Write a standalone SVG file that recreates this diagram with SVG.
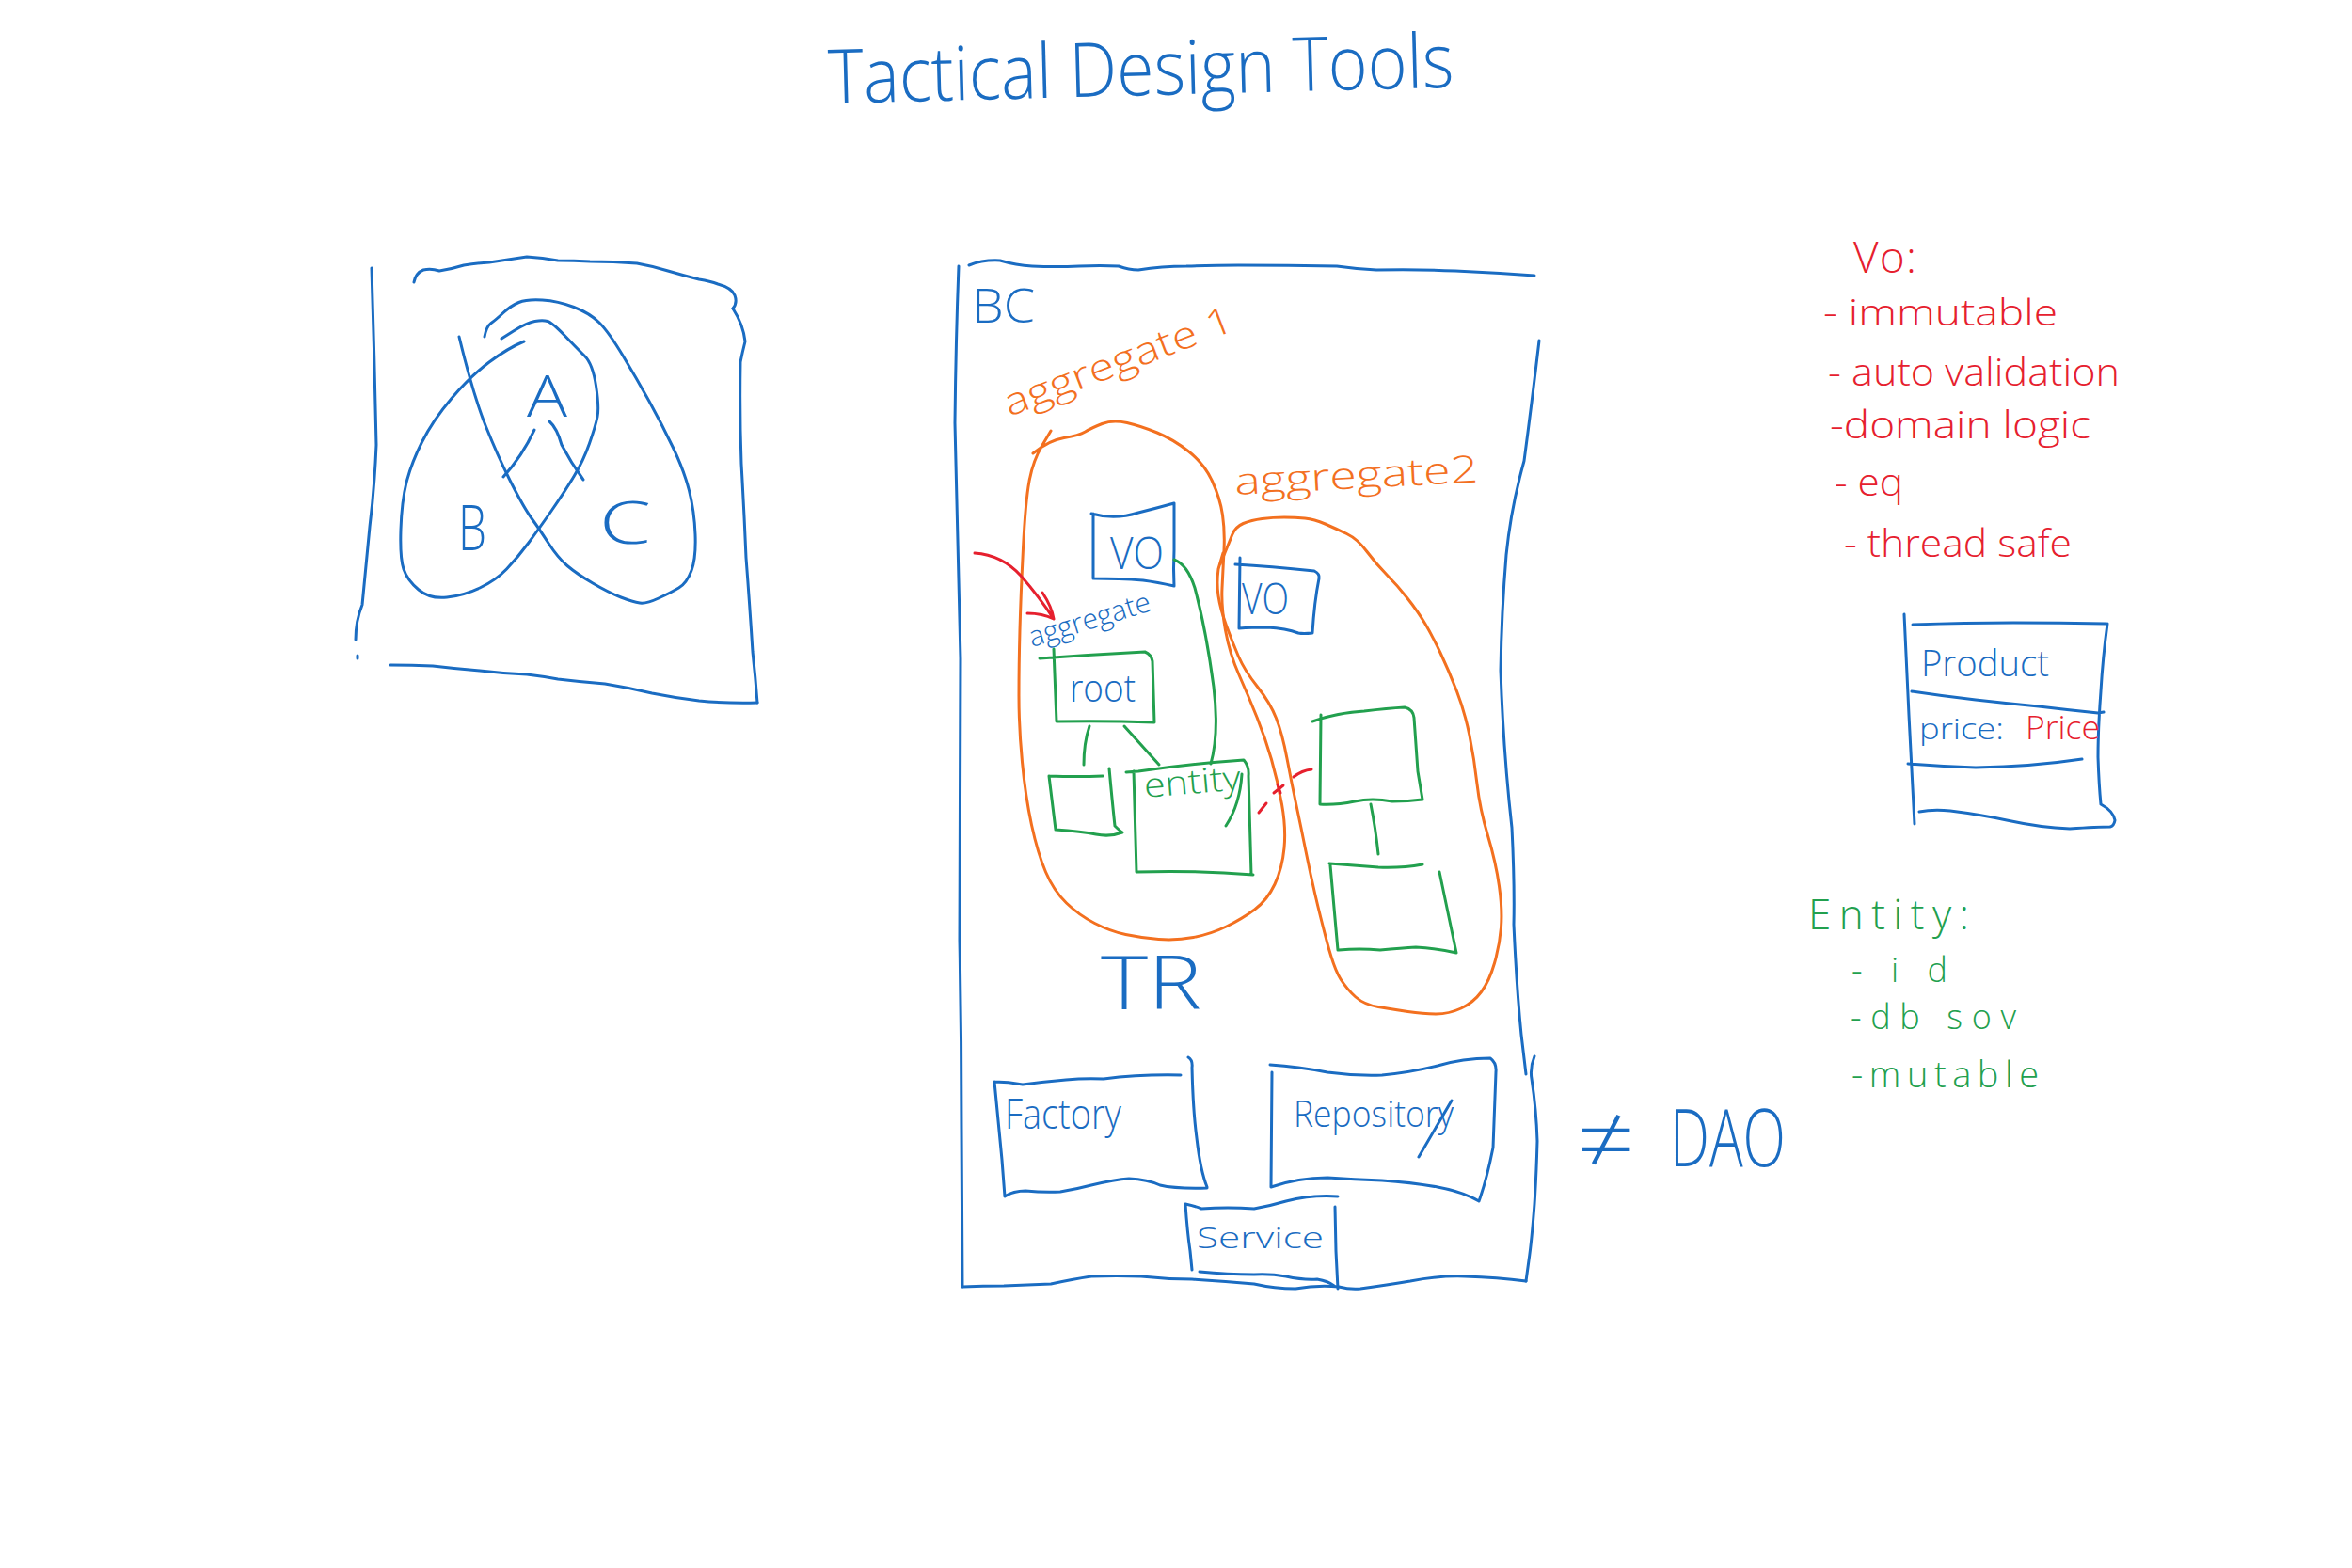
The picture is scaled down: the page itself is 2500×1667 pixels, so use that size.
<svg xmlns="http://www.w3.org/2000/svg" width="2500" height="1667" viewBox="0 0 2500 1667">
  <style>
    path { fill: none; stroke-width: 3; stroke-linecap: round; stroke-linejoin: round; }
    .b { stroke: #1a6cc2; }
    .o { stroke: #f3701f; }
    .g { stroke: #22a04e; }
    .r { stroke: #e6202e; }
    text { font-family: "Open Sans", "Liberation Sans", sans-serif; font-weight: 300; }
    .tb { fill: #1a6cc2; }
    .to { fill: #f3701f; }
    .tg { fill: #22a04e; }
    .tr { fill: #e6202e; }
  </style>
  <rect width="2500" height="1667" fill="#ffffff"/>

  <!-- heading -->
  <g id="title">
    <text class="tb" x="881" y="110" font-size="80" textLength="665" lengthAdjust="spacingAndGlyphs" transform="rotate(-1.5 881 110)">Tactical Design Tools</text>
  </g>

  <!-- left sketch: frame with three overlapping lobes -->
  <g id="venn-frame">
    <path class="b" d="M395,285 Q398,380 400,473 Q398,520 393,560 Q388,610 385,643 Q378,660 378,680 M380,697 L380,700"/>
    <path class="b" d="M440,300 Q442,290 450,287 Q458,285 467,288 Q480,286 493,282 Q506,280 520,279 Q540,276 560,273 Q577,274 593,277 Q610,277 627,278 Q652,278 677,280 Q694,283 710,288 Q727,293 743,297 Q755,299 763,302 Q778,306 781,314 Q784,322 779,328"/>
    <path class="b" d="M779,328 Q790,345 792,363 Q789,375 787,385 Q786,440 788,493 Q791,545 793,593 Q797,645 800,693 Q803,720 805,747"/>
    <path class="b" d="M415,707 Q438,707 460,708 Q485,711 510,713 Q535,716 560,717 Q577,719 593,722 Q618,725 643,727 Q668,731 693,737 Q718,742 743,745 Q775,748 805,747"/>
  </g>
  <g id="venn-b">
    <path class="b" d="M557,363 Q540,370 520,385 Q500,400 480,423.5 Q460,447 448.5,470 Q437,493 432,513 Q427,533 426,563 Q425,593 429,605 Q433,617 445,627 Q457,637 475,635 Q493,633 510,625 Q527,617 538.5,605 Q550,593 561.5,577.5 Q573,562 586.5,542.5 Q600,523 610,506.5 Q620,490 626.5,471.5 Q633,453 635,443 Q637,433 633.5,410 Q630,387 621.5,378.5 Q613,370 600,356.5 Q587,343 582,341.5 Q577,340 568.5,341.5 Q560,343 546.5,351.5 L533,360"/>
    <text class="tb" x="487" y="585" font-size="66" textLength="30" lengthAdjust="spacingAndGlyphs">B</text>
  </g>
  <g id="venn-c">
    <path class="b" d="M515,358 Q517,347 522,343.5 Q527,340 535,332.5 Q543,325 551.5,321.5 Q560,318 576.5,319 Q593,320 610,326.5 Q627,333 637,343 Q647,353 662,378 Q677,403 690,426.5 Q703,450 715,475 Q727,500 732.5,521.5 Q738,543 739,568 Q740,593 735,606.5 Q730,620 721.5,625 Q713,630 700,636 Q687,642 680,641 Q673,640 660,635 Q647,630 630,620 Q613,610 603,601.5 Q593,593 583,577.5 Q573,562 565,551 Q557,540 543.5,513.5 Q530,487 516.5,453.5 Q503,420 488,358"/>
    <text class="tb" x="637" y="578" font-size="62" textLength="55" lengthAdjust="spacingAndGlyphs">C</text>
  </g>
  <g id="venn-a">
    <path class="b" d="M568,457 Q555,485 535,507 M584,448 Q592,455 597,473 Q607,492 620,510"/>
    <text class="tb" x="560" y="443" font-size="60" textLength="43" lengthAdjust="spacingAndGlyphs">A</text>
  </g>

  <!-- bounded context frame -->
  <g id="bounded-context">
    <path class="b" d="M1030,282 Q1045,276 1063,277 Q1080,282 1097,283 Q1122,284 1147,283 Q1170,282 1189,283 Q1200,287 1210,287 Q1235,283 1261,283 Q1290,282 1316,282 Q1370,282 1421,283 Q1442,286 1463,287 Q1505,286 1547,288 Q1590,290 1631,293"/>
    <path class="b" d="M1019,283 Q1016,360 1015,450 Q1018,570 1021,700 Q1020,850 1020,1000 Q1022,1100 1022,1200 L1023,1368"/>
    <path class="b" d="M1636,362 Q1628,430 1620,490 Q1606,540 1601,590 Q1596,650 1595,713 Q1598,800 1607,880 Q1610,940 1609,983 Q1612,1050 1617,1100 L1622,1142"/>
    <path class="b" d="M1631,1123 Q1626,1135 1628,1147 Q1633,1180 1634,1213 Q1633,1250 1631,1280 Q1628,1320 1625,1340 L1622,1362"/>
    <path class="b" d="M1023,1368 Q1045,1367 1067,1367 Q1092,1366 1117,1365 Q1140,1360 1160,1357 Q1187,1356 1213,1357 Q1240,1360 1267,1360 Q1300,1362 1333,1365 Q1355,1370 1377,1370 Q1400,1366 1423,1368 Q1435,1371 1446,1370 Q1475,1366 1499,1362 Q1530,1356 1557,1357 Q1592,1358 1622,1362"/>
    <text class="tb" x="1033" y="343" font-size="50" textLength="67" lengthAdjust="spacingAndGlyphs">BC</text>
    <text class="tb" x="1170" y="1073" font-size="80" textLength="107" lengthAdjust="spacingAndGlyphs">TR</text>
  </g>

  <!-- aggregate 1 -->
  <g id="aggregate-1">
    <path class="o" d="M1098,482 Q1115,468 1131,465.5 Q1147,463 1153.5,459 Q1160,455 1171.5,450.5 Q1183,446 1198,449.5 Q1213,453 1230,460 Q1247,467 1263.5,480 Q1280,493 1288.5,511.5 Q1297,530 1299.5,547.5 Q1302,565 1301,585 Q1300,605 1299,625 Q1298,645 1302.5,670 Q1307,695 1317,717.5 Q1327,740 1336,762.5 Q1345,785 1351.5,807.5 Q1358,830 1362.5,855 Q1367,880 1365,901.5 Q1363,923 1355,940 Q1347,957 1333.5,967 Q1320,977 1303.5,985 Q1287,993 1268.5,996.5 Q1250,1000 1231.5,998.5 Q1213,997 1196.5,993.5 Q1180,990 1163.5,981.5 Q1147,973 1133.5,960 Q1120,947 1111.5,927 Q1103,907 1096.5,877 Q1090,847 1086.5,810 Q1083,773 1083,740 Q1083,707 1084,670 Q1085,633 1087.5,583 Q1090,533 1094,511.5 Q1098,490 1107.5,474 L1117,458"/>
    <text class="to" x="1073" y="443" font-size="40" textLength="258" lengthAdjust="spacingAndGlyphs" transform="rotate(-21 1073 443)">aggregate 1</text>
  </g>

  <!-- aggregate 2 -->
  <g id="aggregate-2">
    <path class="o" d="M1297,600 Q1306,578 1309.5,569 Q1313,560 1321.5,556.5 Q1330,553 1341.5,551.5 Q1353,550 1365,550 Q1377,550 1387,551 Q1397,552 1408.5,557 Q1420,562 1431.5,567.5 Q1443,573 1453,586.5 Q1463,600 1474,611 Q1485,622 1496,636 Q1507,650 1514.5,662.5 Q1522,675 1531,694 Q1540,713 1548.5,735 Q1557,757 1562,782 Q1567,807 1570,833.5 Q1573,860 1581.5,888.5 Q1590,917 1593.5,942 Q1597,967 1595.5,986 Q1594,1005 1588.5,1024 Q1583,1043 1574.5,1054.5 Q1566,1066 1553,1072 Q1540,1078 1526.5,1078 Q1513,1078 1496.5,1075.5 Q1480,1073 1465,1070.5 Q1450,1068 1441,1060 Q1432,1052 1425,1041 Q1418,1030 1410.5,1001.5 Q1403,973 1398,951.5 Q1393,930 1388,905 Q1383,880 1378,856.5 Q1373,833 1368,806.5 Q1363,780 1356.5,763.5 Q1350,747 1336.5,730 Q1323,713 1316.5,698 Q1310,683 1303.5,665 Q1297,647 1295,633.5 Q1293,620 1295,605 L1300,588"/>
    <text class="to" x="1313" y="526" font-size="40" textLength="259" lengthAdjust="spacingAndGlyphs" transform="rotate(-3 1313 526)">aggregate2</text>
  </g>

  <!-- value objects -->
  <g id="vo-1">
    <path class="b" d="M1160,546 Q1185,553 1210,545 Q1230,540 1248,535 L1248,585 Q1247,605 1248,623 Q1230,619 1215,617 Q1190,615 1162,615 L1162,546"/>
    <text class="tb" x="1180" y="605" font-size="48" textLength="57" lengthAdjust="spacingAndGlyphs">VO</text>
  </g>
  <g id="vo-2">
    <path class="b" d="M1313,600 Q1350,602 1397,607 Q1403,610 1402,615 Q1397,640 1395,673 Q1385,674 1380,673 Q1367,668 1347,667 Q1330,667 1317,668 M1318,593 L1317,668"/>
    <text class="tb" x="1320" y="653" font-size="46" textLength="50" lengthAdjust="spacingAndGlyphs">VO</text>
  </g>

  <!-- aggregate root and entities -->
  <g id="root">
    <path class="g" d="M1105,700 Q1160,696 1217,693 Q1224,696 1225,703 L1227,768 Q1175,766 1123,767 M1120,690 L1123,767"/>
    <text class="tb" x="1137" y="746" font-size="40" textLength="70" lengthAdjust="spacingAndGlyphs">root</text>
    <text class="tb" x="1097" y="688" font-size="30" textLength="134" lengthAdjust="spacingAndGlyphs" transform="rotate(-17 1097 688)">aggregate</text>
  </g>
  <g id="child-1">
    <path class="g" d="M1115,825 Q1145,826 1172,825 M1179,817 Q1182,850 1185,878 Q1190,883 1193,885 M1122,882 Q1150,884 1165,887 Q1180,890 1193,885 M1115,825 L1122,882"/>
  </g>
  <g id="entity">
    <path class="g" d="M1197,821 L1210,820 Q1265,812 1322,808 Q1328,815 1327,825 L1330,930 M1205,820 L1208,927 Q1270,925 1332,930 M1320,823 Q1318,855 1303,878"/>
    <text class="tg" x="1217" y="848" font-size="36" textLength="103" lengthAdjust="spacingAndGlyphs" transform="rotate(-5 1217 848)">entity</text>
  </g>
  <g id="child-2a">
    <path class="g" d="M1395,767 Q1420,758 1450,756 Q1475,753 1493,752 Q1502,754 1503,763 L1507,820 L1512,850 M1404,760 L1403,855 Q1420,856 1440,852 Q1458,848 1480,852 Q1497,852 1512,850"/>
  </g>
  <g id="child-2b">
    <path class="g" d="M1413,918 Q1440,920 1465,922 Q1490,923 1512,919 M1414,920 L1422,1010 M1530,927 L1548,1013 M1423,1010 Q1445,1008 1467,1010 Q1490,1008 1505,1007 Q1525,1008 1548,1013"/>
  </g>

  <!-- tactical building blocks -->
  <g id="factory">
    <path class="b" d="M1057,1150 Q1072,1150 1087,1153 Q1110,1150 1133,1148 Q1153,1146 1173,1147 Q1213,1142 1255,1143 M1263,1124 Q1268,1127 1267,1135 Q1268,1180 1272,1210 Q1276,1245 1283,1262 M1068,1272 Q1077,1266 1090,1266 Q1110,1268 1127,1267 Q1145,1264 1160,1260 Q1185,1254 1200,1253 Q1220,1254 1233,1260 Q1250,1264 1283,1263 M1057,1150 Q1062,1200 1065,1233 L1068,1272"/>
    <text class="tb" x="1068" y="1200" font-size="44" textLength="124" lengthAdjust="spacingAndGlyphs">Factory</text>
  </g>
  <g id="repository">
    <path class="b" d="M1350,1132 Q1380,1134 1411,1140 Q1440,1144 1469,1143 Q1500,1140 1528,1133 Q1555,1125 1584,1125 Q1591,1130 1590,1140 Q1588,1190 1587,1220 Q1580,1255 1572,1277 M1352,1140 L1351,1262 M1351,1262 Q1380,1252 1411,1252 Q1440,1254 1469,1255 Q1500,1257 1528,1262 Q1555,1267 1572,1277 M1543,1170 L1508,1230"/>
    <text class="tb" x="1375" y="1198" font-size="38" textLength="170" lengthAdjust="spacingAndGlyphs">Repository</text>
  </g>
  <g id="service">
    <path class="b" d="M1260,1280 Q1270,1282 1277,1285 Q1305,1283 1333,1285 Q1350,1282 1367,1277 Q1395,1270 1422,1272 M1260,1280 Q1262,1310 1265,1330 L1267,1350 M1419,1283 L1420,1330 L1422,1370 M1275,1352 Q1305,1355 1333,1355 Q1350,1354 1367,1357 Q1385,1361 1400,1360 Q1412,1362 1418,1367"/>
    <text class="tb" x="1272" y="1327" font-size="32" textLength="135" lengthAdjust="spacingAndGlyphs">Service</text>
  </g>
  <g id="not-dao">
    <text class="tb" x="1676" y="1247" font-size="100" textLength="62" lengthAdjust="spacingAndGlyphs">≠</text>
    <text class="tb" x="1775" y="1240" font-size="84" textLength="123" lengthAdjust="spacingAndGlyphs">DAO</text>
  </g>

  <!-- links between elements -->
  <g id="connectors">
    <path class="g" d="M1248,595 Q1262,600 1270,625 Q1282,670 1290,730 Q1296,780 1287,812"/>
    <path class="g" d="M1158,772 Q1152,790 1152,813"/>
    <path class="g" d="M1195,772 L1232,813"/>
    <path class="g" d="M1457,855 Q1462,880 1465,908"/>
    <path class="r" d="M1036,588 Q1065,590 1085,612 Q1105,635 1120,658 M1108,630 Q1118,645 1120,658 M1092,652 Q1108,652 1120,658"/>
    <path class="r" d="M1338,864 L1346,854 M1354,843 L1364,835 M1358,834 L1361,843 M1375,826 Q1384,819 1394,818"/>
  </g>

  <!-- value object notes -->
  <g id="vo-notes">
    <text class="tr" x="1970" y="290" font-size="46" textLength="67" lengthAdjust="spacing">Vo:</text>
    <text class="tr" x="1938" y="346" font-size="38" textLength="249" lengthAdjust="spacingAndGlyphs">- immutable</text>
    <text class="tr" x="1943" y="410" font-size="40" textLength="310" lengthAdjust="spacingAndGlyphs">- auto validation</text>
    <text class="tr" x="1945" y="466" font-size="40" textLength="277" lengthAdjust="spacingAndGlyphs">-domain logic</text>
    <text class="tr" x="1950" y="527" font-size="40" textLength="73" lengthAdjust="spacingAndGlyphs">- eq</text>
    <text class="tr" x="1960" y="592" font-size="40" textLength="242" lengthAdjust="spacingAndGlyphs">- thread safe</text>
  </g>

  <!-- class sketch -->
  <g id="product">
    <path class="b" d="M2024,653 L2029,760 L2035,876 M2033,664 Q2090,662 2140,662 Q2190,662 2238,663 M2240,663 Q2235,700 2233,735 Q2230,775 2230,805 Q2231,835 2233,855 Q2246,862 2248,872 Q2247,878 2243,879 M2040,863 Q2055,860 2073,862 Q2105,866 2133,872 Q2170,880 2200,881 Q2230,879 2243,879 M2032,735 Q2065,740 2100,744 Q2135,748 2167,751 Q2200,755 2230,758 L2236,757 M2028,812 Q2065,815 2100,816 Q2160,815 2213,807"/>
    <text class="tb" x="2042" y="719" font-size="38" textLength="136" lengthAdjust="spacingAndGlyphs">Product</text>
    <text class="tb" x="2040" y="786" font-size="32" textLength="90" lengthAdjust="spacingAndGlyphs">price:</text>
    <text class="tr" x="2153" y="786" font-size="34" textLength="79" lengthAdjust="spacingAndGlyphs">Price</text>
  </g>

  <!-- entity notes -->
  <g id="entity-notes">
    <text class="tg" x="1922" y="988" font-size="44" textLength="171" lengthAdjust="spacing">Entity:</text>
    <text class="tg" x="1968" y="1044" font-size="36" textLength="102" lengthAdjust="spacing">-id</text>
    <text class="tg" x="1967" y="1094" font-size="36" textLength="176" lengthAdjust="spacing">-db sov</text>
    <text class="tg" x="1968" y="1156" font-size="38" textLength="199" lengthAdjust="spacing">-mutable</text>
  </g>
</svg>
